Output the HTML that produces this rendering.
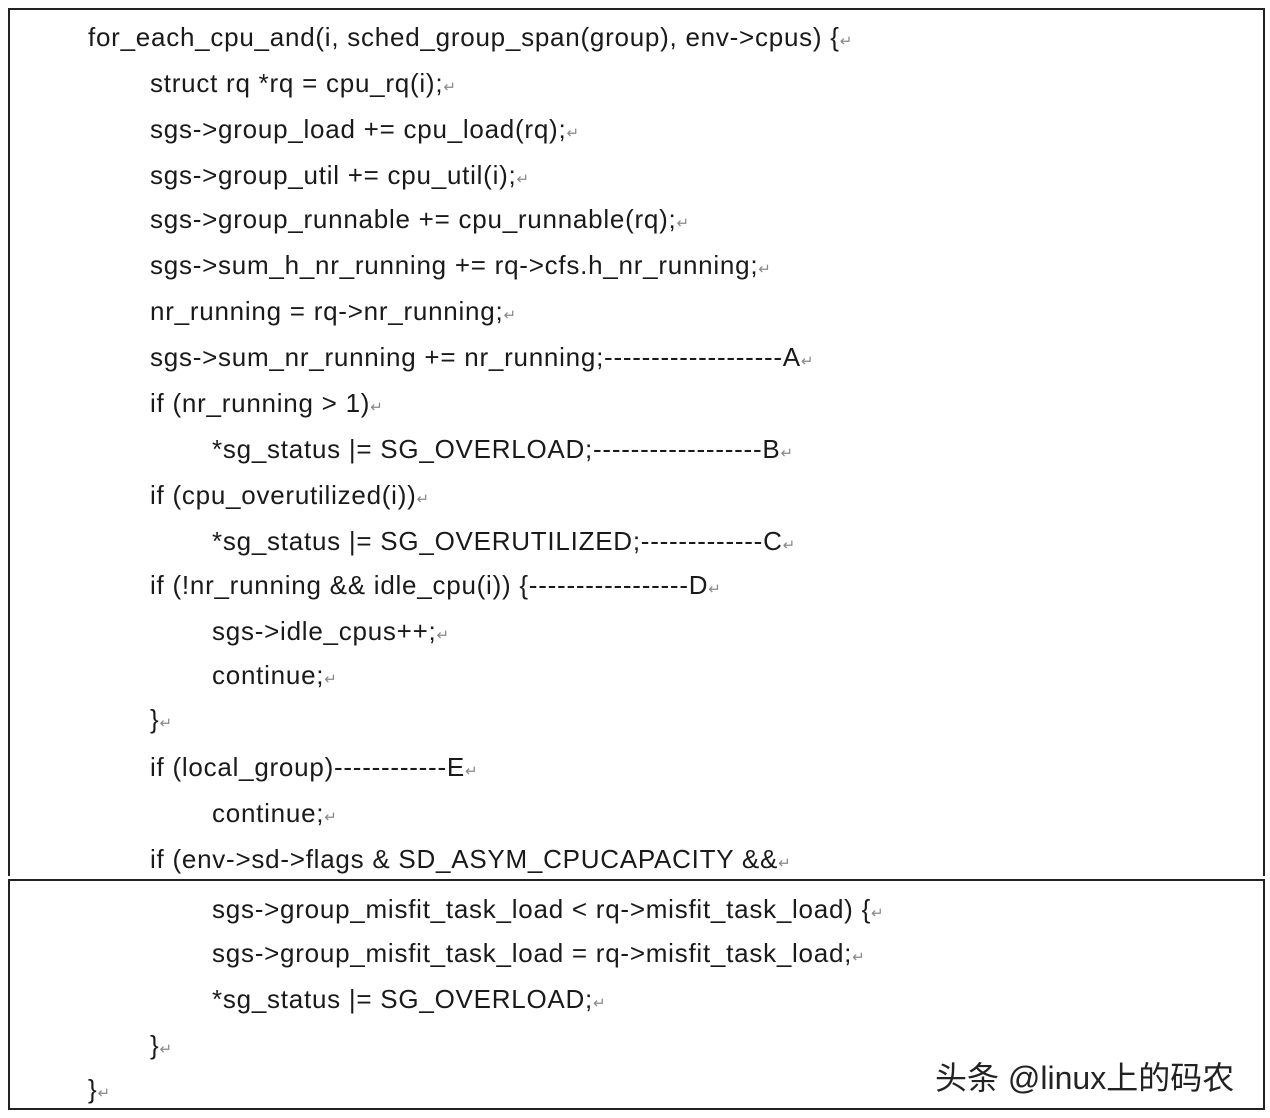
<!DOCTYPE html>
<html><head><meta charset="utf-8"><style>
body{margin:0;width:1270px;height:1118px;background:#fff;position:relative;overflow:hidden;font-family:"Liberation Sans","Noto Sans CJK SC",sans-serif;color:#1a1a1a}
.b1{position:absolute;left:8px;top:8px;width:1253px;height:866px;border:2px solid #222;border-bottom:none}
.b2{position:absolute;left:8px;top:879px;width:1253px;height:227px;border:2px solid #222}
.l{position:absolute;font-size:26px;letter-spacing:0.75px;white-space:pre;line-height:30px;transform:translateY(-15px)}
.r{color:#888;font-size:15px;letter-spacing:0}
.w{position:absolute;left:935px;top:1053px;font-size:32px;color:#222;white-space:pre}
</style></head><body>
<div class="b1"></div><div class="b2"></div>
<div class="l" style="left:88px;top:37px">for_each_cpu_and(i, sched_group_span(group), env-&gt;cpus) {<span class="r">↵</span></div>
<div class="l" style="left:150px;top:83px">struct rq *rq = cpu_rq(i);<span class="r">↵</span></div>
<div class="l" style="left:150px;top:129px">sgs-&gt;group_load += cpu_load(rq);<span class="r">↵</span></div>
<div class="l" style="left:150px;top:175px">sgs-&gt;group_util += cpu_util(i);<span class="r">↵</span></div>
<div class="l" style="left:150px;top:219px">sgs-&gt;group_runnable += cpu_runnable(rq);<span class="r">↵</span></div>
<div class="l" style="left:150px;top:265px">sgs-&gt;sum_h_nr_running += rq-&gt;cfs.h_nr_running;<span class="r">↵</span></div>
<div class="l" style="left:150px;top:311px">nr_running = rq-&gt;nr_running;<span class="r">↵</span></div>
<div class="l" style="left:150px;top:357px">sgs-&gt;sum_nr_running += nr_running;-------------------A<span class="r">↵</span></div>
<div class="l" style="left:150px;top:403px">if (nr_running &gt; 1)<span class="r">↵</span></div>
<div class="l" style="left:212px;top:449px">*sg_status |= SG_OVERLOAD;------------------B<span class="r">↵</span></div>
<div class="l" style="left:150px;top:495px">if (cpu_overutilized(i))<span class="r">↵</span></div>
<div class="l" style="left:212px;top:541px">*sg_status |= SG_OVERUTILIZED;-------------C<span class="r">↵</span></div>
<div class="l" style="left:150px;top:585px">if (!nr_running &amp;&amp; idle_cpu(i)) {-----------------D<span class="r">↵</span></div>
<div class="l" style="left:212px;top:631px">sgs-&gt;idle_cpus++;<span class="r">↵</span></div>
<div class="l" style="left:212px;top:675px">continue;<span class="r">↵</span></div>
<div class="l" style="left:150px;top:719px">}<span class="r">↵</span></div>
<div class="l" style="left:150px;top:767px">if (local_group)------------E<span class="r">↵</span></div>
<div class="l" style="left:212px;top:813px">continue;<span class="r">↵</span></div>
<div class="l" style="left:150px;top:859px">if (env-&gt;sd-&gt;flags &amp; SD_ASYM_CPUCAPACITY &amp;&amp;<span class="r">↵</span></div>
<div class="l" style="left:212px;top:909px">sgs-&gt;group_misfit_task_load &lt; rq-&gt;misfit_task_load) {<span class="r">↵</span></div>
<div class="l" style="left:212px;top:953px">sgs-&gt;group_misfit_task_load = rq-&gt;misfit_task_load;<span class="r">↵</span></div>
<div class="l" style="left:212px;top:999px">*sg_status |= SG_OVERLOAD;<span class="r">↵</span></div>
<div class="l" style="left:150px;top:1045px">}<span class="r">↵</span></div>
<div class="l" style="left:88px;top:1089px">}<span class="r">↵</span></div>
<div class="w">头条 @linux上的码农</div>
</body></html>
